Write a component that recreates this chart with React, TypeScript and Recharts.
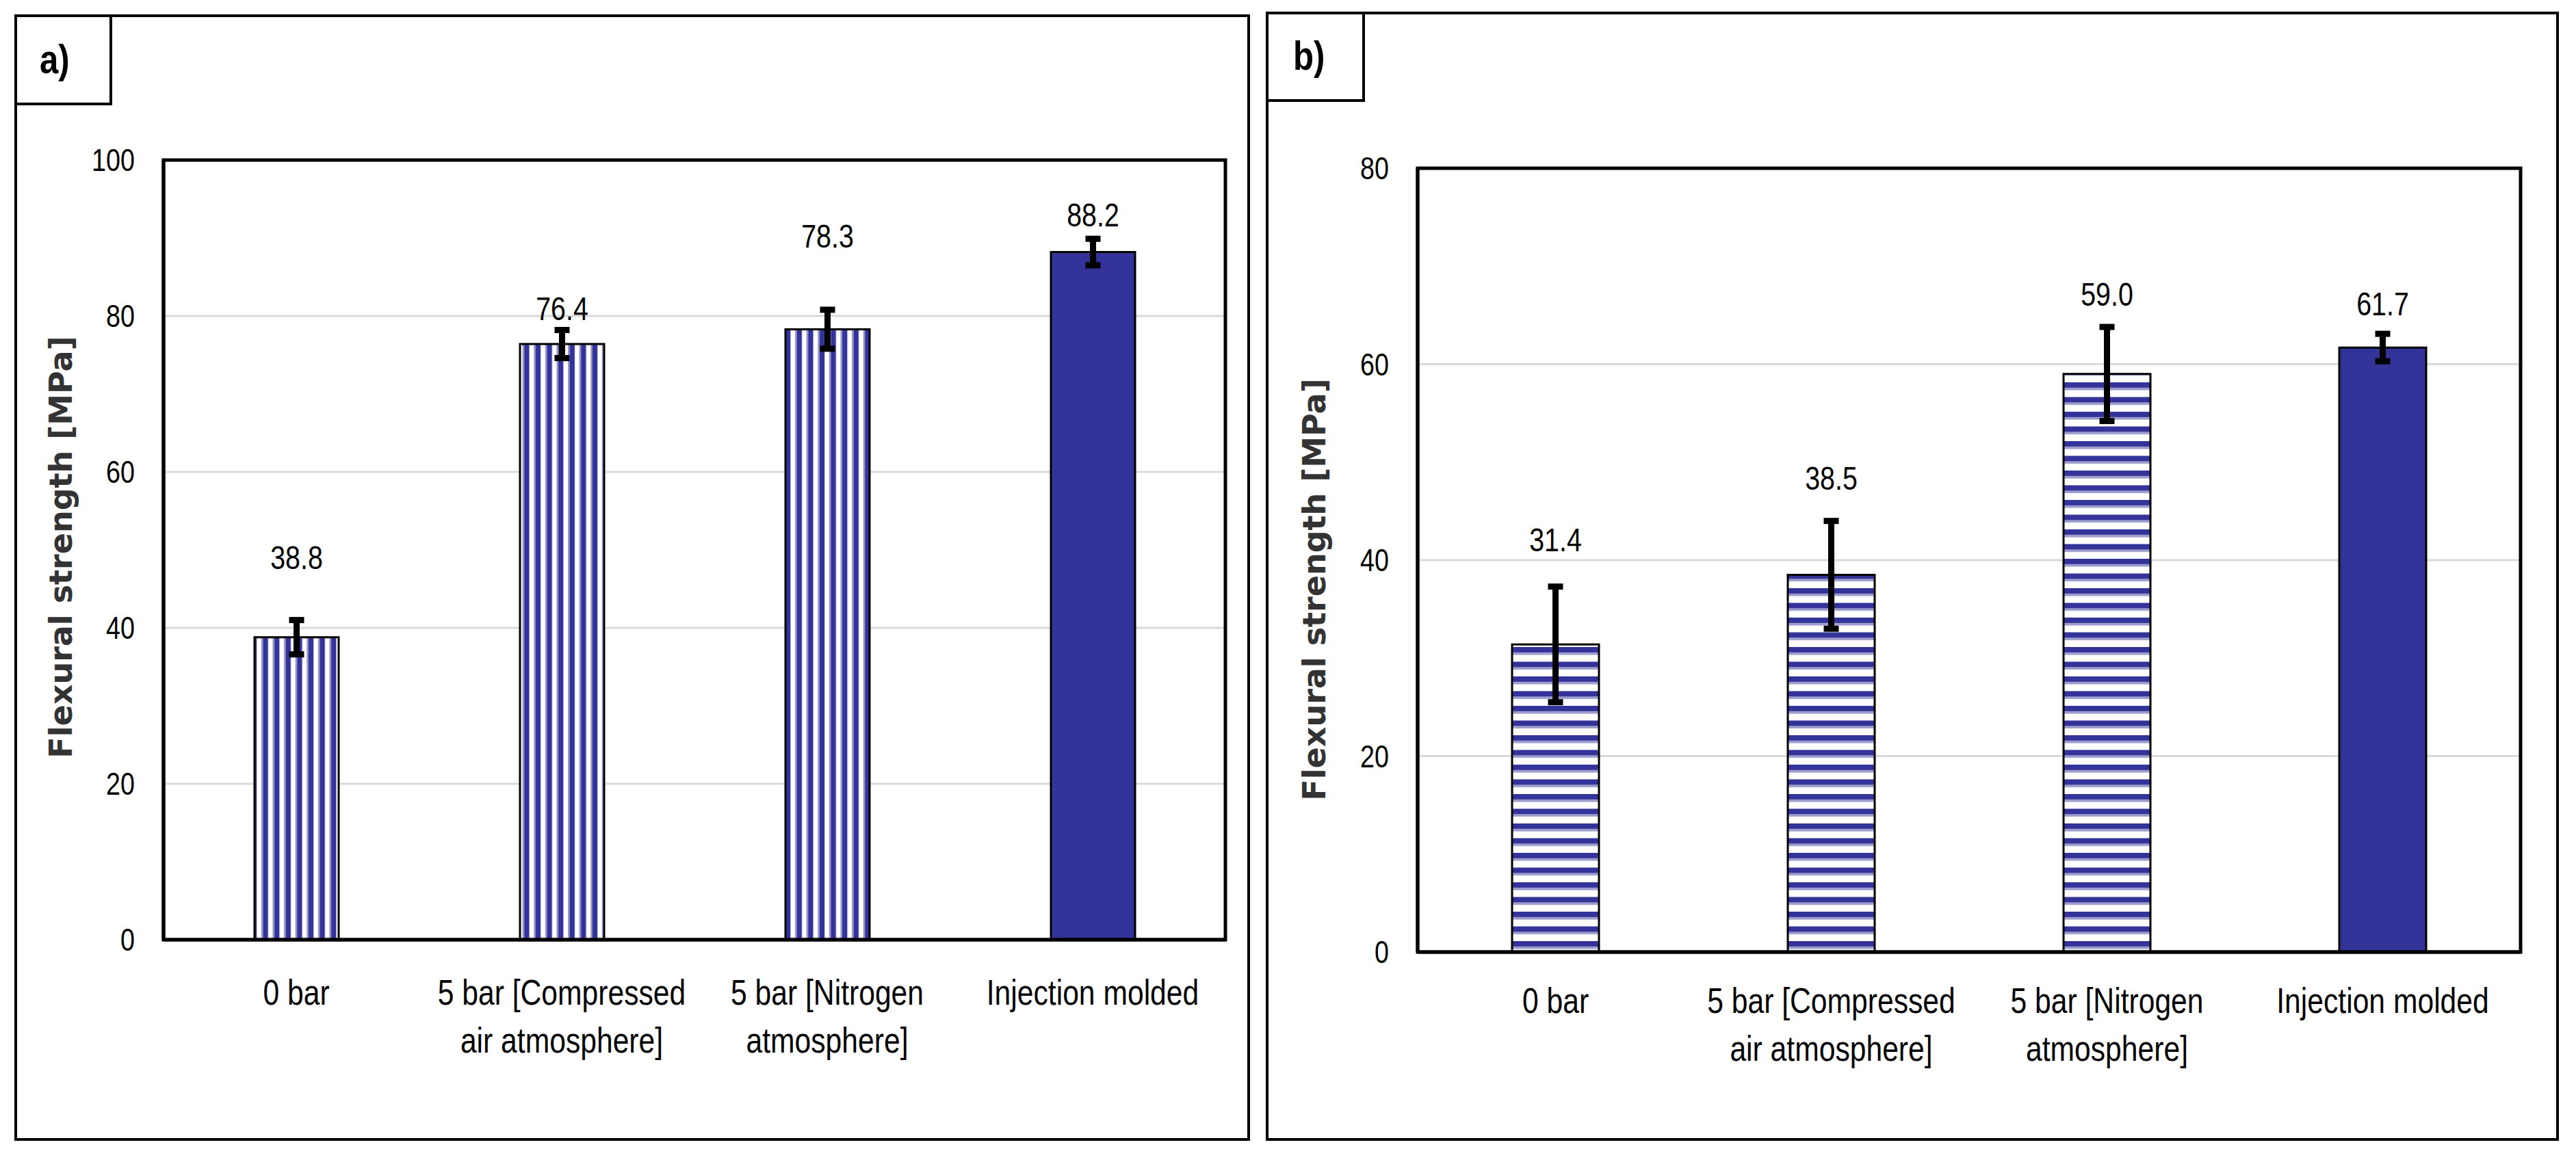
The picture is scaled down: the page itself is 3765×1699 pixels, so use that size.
import React from 'react'
import { BarChart, Bar, XAxis, YAxis, CartesianGrid, ErrorBar, LabelList, Cell } from 'recharts'

const categories = [
  '0 bar',
  '5 bar [Compressed\nair atmosphere]',
  '5 bar [Nitrogen\natmosphere]',
  'Injection molded',
]

// panel a)
const strengthA = [38.8, 76.4, 78.3, 88.2]
const errorA = [2.2, 1.8, 2.5, 1.7]
const ticksA = [0, 20, 40, 60, 80, 100]

// panel b)
const strengthB = [31.4, 38.5, 59.0, 61.7]
const errorB = [5.9, 5.5, 4.8, 1.4]
const ticksB = [0, 20, 40, 60, 80]

// value labels were hand-placed in the original, px above each bar top
const labelLiftA = [117, 52, 136, 55]
const labelLiftB = [153, 141, 117, 64]

// no condensed face is installed, so squeeze Liberation Sans like Arial Narrow
const SANS = "'Liberation Sans', Arial, sans-serif"
const SQUEEZE = 0.82
const TITLE_FONT = "'DejaVu Sans', Verdana, sans-serif"
const BLUE = '#333399'
const LIGHT = '#9999cc'

const makeRows = (values: number[], errors: number[]) =>
  categories.map((name, i) => ({ name, value: values[i], err: errors[i] }))

const NarrowText = ({ x, y, size, anchor = 'middle', weight = 'normal', baseline, lines, lineGap = 70 }: any) => (
  <text
    transform={`translate(${x} ${y}) scale(${SQUEEZE} 1)`}
    textAnchor={anchor}
    dominantBaseline={baseline}
    fontFamily={SANS}
    fontWeight={weight}
    fontSize={size}
    fill="#000"
  >
    {lines.map((l: string, i: number) => (
      <tspan key={i} x={0} dy={i === 0 ? 0 : lineGap}>
        {l}
      </tspan>
    ))}
  </text>
)

const CategoryTick = ({ x, y, payload, dy }: any) => (
  <NarrowText x={x} y={y + dy} size={52} lines={String(payload.value).split('\n')} />
)

const ValueTick = ({ x, y, payload }: any) => (
  <NarrowText x={x} y={y + 16} size={46} anchor="end" lines={[String(payload.value)]} />
)

interface PanelChartProps {
  left: number
  width: number
  margin: { top: number; right: number; bottom: number; left: number }
  values: number[]
  errors: number[]
  ticks: number[]
  lifts: number[]
  pattern: string
  barSize: number
  tickDy: number
}

function PanelChart({ left, width, margin, values, errors, ticks, lifts, pattern, barSize, tickDy }: PanelChartProps) {
  const data = makeRows(values, errors)
  const max = ticks[ticks.length - 1]
  const frame = { stroke: '#000', strokeWidth: 5 }

  const renderLabel = (props: any) => {
    const { x, y, width: w, value, index } = props
    const lift = lifts[index] ?? 60
    return (
      <NarrowText
        key={index}
        x={Number(x) + Number(w) / 2}
        y={Number(y) - lift + 17}
        size={48}
        lines={[Number(value).toFixed(1)]}
      />
    )
  }

  return (
    <div style={{ position: 'absolute', left, top: 0 }}>
      <BarChart width={width} height={1699} data={data} margin={margin}>
        <CartesianGrid vertical={false} stroke="#d9d9d9" strokeWidth={3} />
        <XAxis
          dataKey="name"
          height={200}
          tickLine={false}
          tickSize={0}
          tickMargin={0}
          interval={0}
          axisLine={frame}
          tick={<CategoryTick dy={tickDy} />}
        />
        <YAxis
          domain={[0, max]}
          ticks={ticks}
          width={100}
          tickLine={false}
          tickSize={0}
          tickMargin={42}
          axisLine={frame}
          tick={<ValueTick />}
        />
        <Bar dataKey="value" barSize={barSize} stroke="#000" strokeWidth={3} isAnimationActive={false}>
          {data.map((d, i) => (
            <Cell key={d.name} fill={i === data.length - 1 ? BLUE : `url(#${pattern})`} />
          ))}
          <ErrorBar dataKey="err" width={11} strokeWidth={9} stroke="#000" />
          <LabelList dataKey="value" content={renderLabel} />
        </Bar>
      </BarChart>
    </div>
  )
}

export default function App() {
  return (
    <div style={{ position: 'absolute', left: 0, top: 0, width: 3765, height: 1699, background: '#fff' }}>
      <svg width={3765} height={1699} style={{ position: 'absolute', left: 0, top: 0 }}>
        <defs>
          <pattern id="vstripe" patternUnits="userSpaceOnUse" width={16.6} height={20}>
            <rect width={16.6} height={20} fill="#fff" />
            <rect x={0} width={2.5} height={20} fill={LIGHT} />
            <rect x={2.5} width={7.5} height={20} fill={BLUE} />
          </pattern>
          <pattern id="hstripe" patternUnits="userSpaceOnUse" width={20} height={21.5}>
            <rect width={20} height={21.5} fill="#fff" />
            <rect y={0} width={20} height={8} fill={BLUE} />
            <rect y={8} width={20} height={3.5} fill={LIGHT} />
          </pattern>
        </defs>
        {/* panel frames and tag boxes */}
        <rect x={23} y={23} width={1802} height={1643} fill="none" stroke="#000" strokeWidth={4} />
        <rect x={23} y={23} width={139} height={129} fill="none" stroke="#000" strokeWidth={4} />
        <NarrowText x={58} y={107} size={60} weight="bold" anchor="start" lines={['a)']} />
        <rect x={1852} y={19} width={1886} height={1647} fill="none" stroke="#000" strokeWidth={4} />
        <rect x={1852} y={19} width={141} height={128} fill="none" stroke="#000" strokeWidth={4} />
        <NarrowText x={1890} y={102} size={60} weight="bold" anchor="start" lines={['b)']} />
        {/* y axis titles */}
        <text
          x={89}
          y={800}
          transform="rotate(-90 89 800)"
          textAnchor="middle"
          dominantBaseline="central"
          fontFamily={TITLE_FONT}
          fontWeight="bold"
          fontSize={46}
          fill="#333"
        >
          Flexural strength [MPa]
        </text>
        <text
          x={1921}
          y={862}
          transform="rotate(-90 1921 862)"
          textAnchor="middle"
          dominantBaseline="central"
          fontFamily={TITLE_FONT}
          fontWeight="bold"
          fontSize={46}
          fill="#333"
        >
          Flexural strength [MPa]
        </text>
      </svg>

      <PanelChart
        left={0}
        width={1850}
        margin={{ top: 234, right: 59, bottom: 125, left: 139 }}
        values={strengthA}
        errors={errorA}
        ticks={ticksA}
        lifts={labelLiftA}
        pattern="vstripe"
        barSize={123}
        tickDy={95}
      />
      <PanelChart
        left={1830}
        width={1935}
        margin={{ top: 246, right: 81, bottom: 107, left: 142 }}
        values={strengthB}
        errors={errorB}
        ticks={ticksB}
        lifts={labelLiftB}
        pattern="hstripe"
        barSize={127}
        tickDy={89}
      />

      {/* plot-area borders on top of the charts */}
      <svg width={3765} height={1699} style={{ position: 'absolute', left: 0, top: 0, pointerEvents: 'none' }}>
        <rect x={239} y={234} width={1552} height={1140} fill="none" stroke="#000" strokeWidth={5} />
        <rect x={2072} y={246} width={1612} height={1146} fill="none" stroke="#000" strokeWidth={5} />
      </svg>
    </div>
  )
}
